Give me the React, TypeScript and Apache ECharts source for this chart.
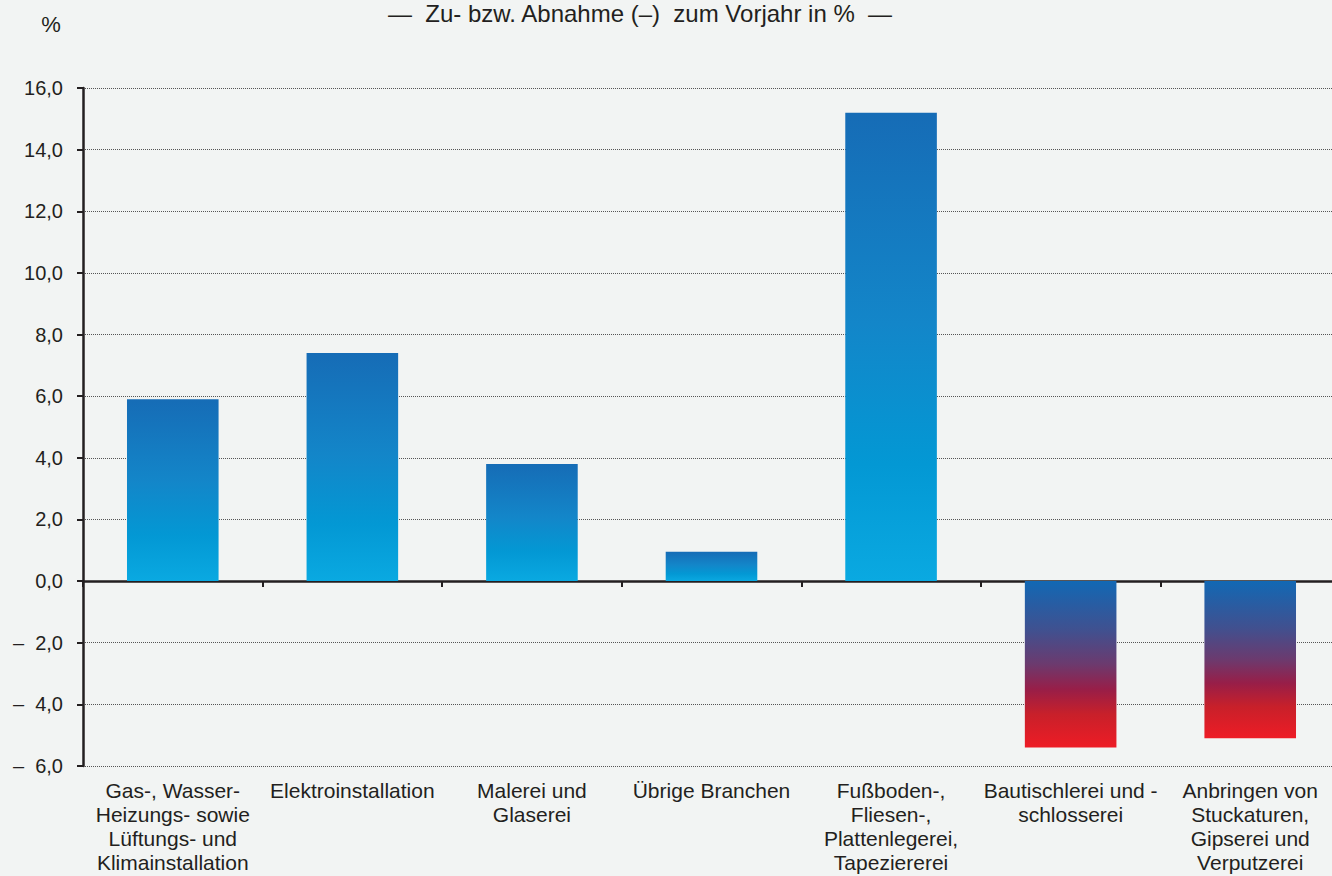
import React, { useEffect, useRef } from "react";
import * as echarts from "echarts";

const categories = [
  "Gas-, Wasser-\nHeizungs- sowie\nLüftungs- und\nKlimainstallation",
  "Elektroinstallation",
  "Malerei und\nGlaserei",
  "Übrige Branchen",
  "Fußboden-,\nFliesen-,\nPlattenlegerei,\nTapeziererei",
  "Bautischlerei und -\nschlosserei",
  "Anbringen von\nStuckaturen,\nGipserei und\nVerputzerei",
];

const values = [5.9, 7.4, 3.8, 0.95, 15.2, -5.4, -5.1];

const titleText = "—  Zu- bzw. Abnahme (–)  zum Vorjahr in %  —";
const unitText = "%";

const FONT = "'Liberation Sans', Arial, sans-serif";
const TEXT = "#231f20";

const posGradient = () =>
  new echarts.graphic.LinearGradient(0, 0, 0, 1, [
    { offset: 0, color: "#166cb6" },
    { offset: 0.45, color: "#1386c9" },
    { offset: 0.75, color: "#0398d4" },
    { offset: 1, color: "#0aa9e1" },
  ]);

const negGradient = () =>
  new echarts.graphic.LinearGradient(0, 0, 0, 1, [
    { offset: 0, color: "#1268b4" },
    { offset: 0.3, color: "#41508f" },
    { offset: 0.5, color: "#6c3a6e" },
    { offset: 0.65, color: "#981e48" },
    { offset: 0.8, color: "#c8202a" },
    { offset: 1, color: "#ee1c25" },
  ]);

const fmt = (v: number) => {
  const s = Math.abs(v).toFixed(1).replace(".", ",");
  return v < 0 ? "–  " + s : s;
};

export default function App() {
  const ref = useRef<HTMLDivElement>(null);
  useEffect(() => {
    if (!ref.current) return;
    const chart = echarts.init(ref.current, undefined, { renderer: "svg" });
    chart.setOption({
      animation: false,
      backgroundColor: "#f2f4f3",
      textStyle: { fontFamily: FONT },
      graphic: [
        {
          type: "text",
          x: 640,
          y: 1,
          style: {
            text: titleText,
            fontSize: 24,
            fill: TEXT,
            fontFamily: FONT,
            align: "center",
            verticalAlign: "top",
          },
        },
        {
          type: "text",
          x: 51,
          y: 13,
          style: {
            text: unitText,
            fontSize: 22,
            fill: TEXT,
            fontFamily: FONT,
            align: "center",
            verticalAlign: "top",
          },
        },
      ],
      grid: { left: 83, right: 0, top: 88, bottom: 110, containLabel: false },
      xAxis: [
        {
          type: "category",
          data: categories,
          position: "bottom",
          axisLine: { show: false, onZero: false },
          axisTick: { show: false },
          axisLabel: {
            interval: 0,
            margin: 12,
            fontSize: 21,
            lineHeight: 24,
            color: TEXT,
            fontFamily: FONT,
            align: "center",
            verticalAlign: "top",
          },
        },
        {
          type: "category",
          data: categories,
          position: "bottom",
          axisLine: { show: true, onZero: true, lineStyle: { color: TEXT, width: 2.5 } },
          axisTick: { show: true, length: 6, lineStyle: { color: TEXT, width: 2 } },
          axisLabel: { show: false },
          splitLine: { show: false },
        },
      ],
      yAxis: {
        type: "value",
        min: -6,
        max: 16,
        interval: 2,
        axisLine: { show: true, lineStyle: { color: TEXT, width: 2.5 } },
        axisTick: { show: true, length: 6, lineStyle: { color: TEXT, width: 2 } },
        axisLabel: {
          formatter: fmt,
          fontSize: 20,
          color: TEXT,
          margin: 20,
          fontFamily: FONT,
        },
        splitLine: { show: true, lineStyle: { type: "dotted", color: "#555", width: 1 } },
      },
      series: [
        {
          type: "bar",
          xAxisIndex: 0,
          barWidth: "51%",
          data: values.map((v) => ({
            value: v,
            itemStyle: { color: v >= 0 ? posGradient() : negGradient() },
          })),
        },
      ],
    });
    return () => chart.dispose();
  }, []);
  return (
    <div
      ref={ref}
      style={{ position: "fixed", left: 0, top: 0, width: 1340, height: 876 }}
    />
  );
}
